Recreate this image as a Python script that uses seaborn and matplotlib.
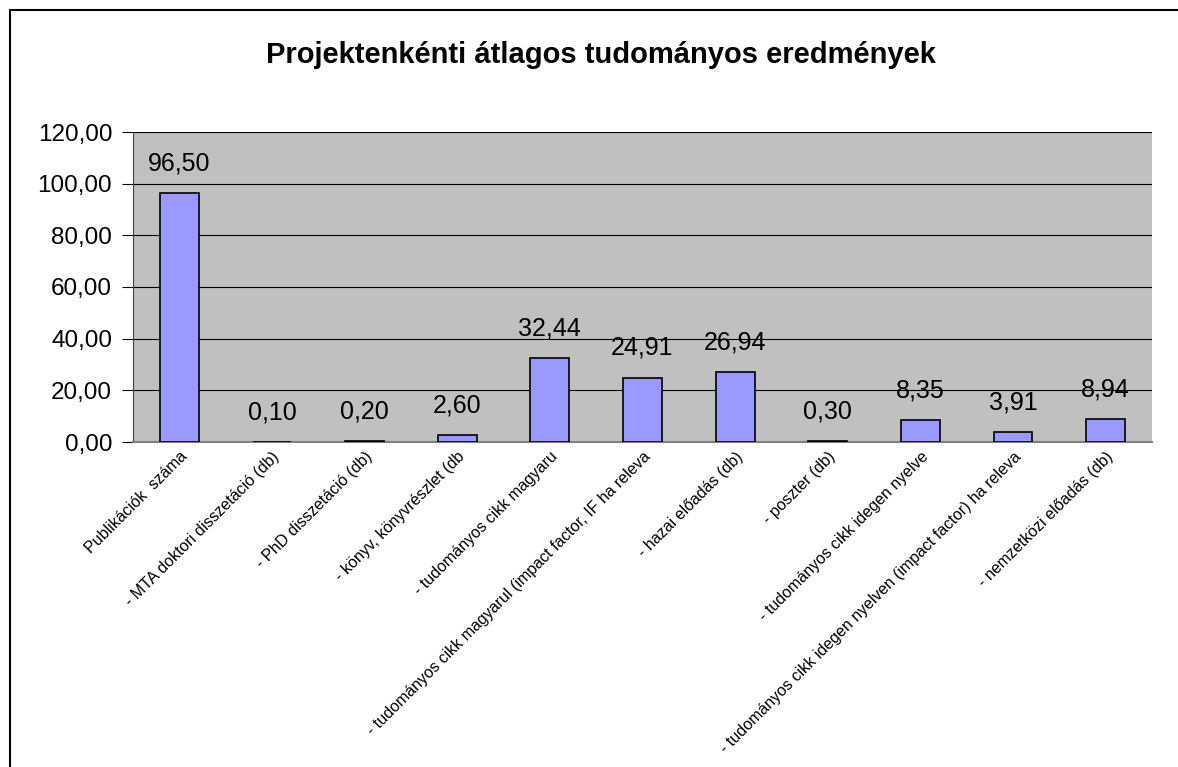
import numpy as np
import pandas as pd
import matplotlib
matplotlib.use("Agg")
import matplotlib.pyplot as plt
import seaborn as sns
from matplotlib.patches import Rectangle
from matplotlib.ticker import FixedLocator

# Chart data
categories = [
    "Publikációk  száma",
    "- MTA doktori disszetáció (db)",
    "- PhD disszetáció (db)",
    "- könyv, könyvrészlet (db",
    "- tudományos cikk magyaru",
    "- tudományos cikk magyarul (impact factor, IF ha releva",
    "- hazai előadás (db)",
    "- poszter (db)",
    "- tudományos cikk idegen nyelve",
    "- tudományos cikk idegen nyelven (impact factor) ha releva",
    "- nemzetközi előadás (db)",
]
values = [96.50, 0.10, 0.20, 2.60, 32.44, 24.91, 26.94, 0.30, 8.35, 3.91, 8.94]
y_ticks = [0, 20, 40, 60, 80, 100, 120]

title = "Projektenkénti átlagos tudományos eredmények"


def fmt(v):
    return f"{v:.2f}".replace(".", ",")


def make_chart(df):
    sns.set_style("white")
    plt.rcParams["font.family"] = ["Liberation Sans", "DejaVu Sans"]
    plt.rcParams["text.color"] = "black"
    plt.rcParams["xtick.color"] = "black"
    plt.rcParams["ytick.color"] = "black"

    fig = plt.figure(figsize=(11.78, 7.67), dpi=100)
    ax = fig.add_axes([133 / 1178, 1 - 442 / 767, (1152 - 133) / 1178, (442 - 132) / 767])

    # outer chart border
    fig.patches.append(Rectangle((10 / 1178, -0.01), 1.0, 1 - 10 / 767 + 0.01,
                                 transform=fig.transFigure, fill=False,
                                 edgecolor="black", linewidth=1.5))

    sns.barplot(data=df, x="category", y="value", color="#9999FF",
                edgecolor="black", linewidth=1.2, width=0.42,
                saturation=1, ax=ax, zorder=3)

    ax.set_facecolor("#C0C0C0")
    ax.set_ylim(0, 120)
    ax.set_xlim(-0.5, len(categories) - 0.5)
    ax.set_yticks(y_ticks)
    ax.set_yticklabels([fmt(t) for t in y_ticks], fontsize=17.5)
    ax.yaxis.grid(True, color="black", linewidth=0.8, zorder=0)
    ax.set_axisbelow(True)

    ax.set_xticks(range(len(categories)))
    ax.set_xticklabels(categories, rotation=45, ha="right", rotation_mode="anchor",
                       fontsize=11.5)
    ax.tick_params(axis="x", length=0, pad=5)
    ax.xaxis.set_minor_locator(FixedLocator(np.arange(-0.5, len(categories), 1.0)))
    ax.tick_params(axis="x", which="minor", length=5, color="black", direction="out")
    ax.tick_params(axis="y", length=8, color="black", direction="out", left=True, pad=7)

    for s in ["top", "right"]:
        ax.spines[s].set_visible(False)
    ax.spines["left"].set_color("#404040")
    ax.spines["bottom"].set_color("#808080")
    ax.spines["bottom"].set_linewidth(1.5)

    for i, v in enumerate(df["value"]):
        ax.text(i, v + 11.5, fmt(v), ha="center", va="center", fontsize=18)

    ax.set_xlabel("")
    ax.set_ylabel("")
    fig.text(601 / 1178, 1 - 55 / 767, title, ha="center", va="center",
             fontsize=21, fontweight="bold")

    fig.savefig("out.png", dpi=100, facecolor="white")


if __name__ == "__main__":
    data = pd.DataFrame({"category": categories, "value": values})
    make_chart(data)
